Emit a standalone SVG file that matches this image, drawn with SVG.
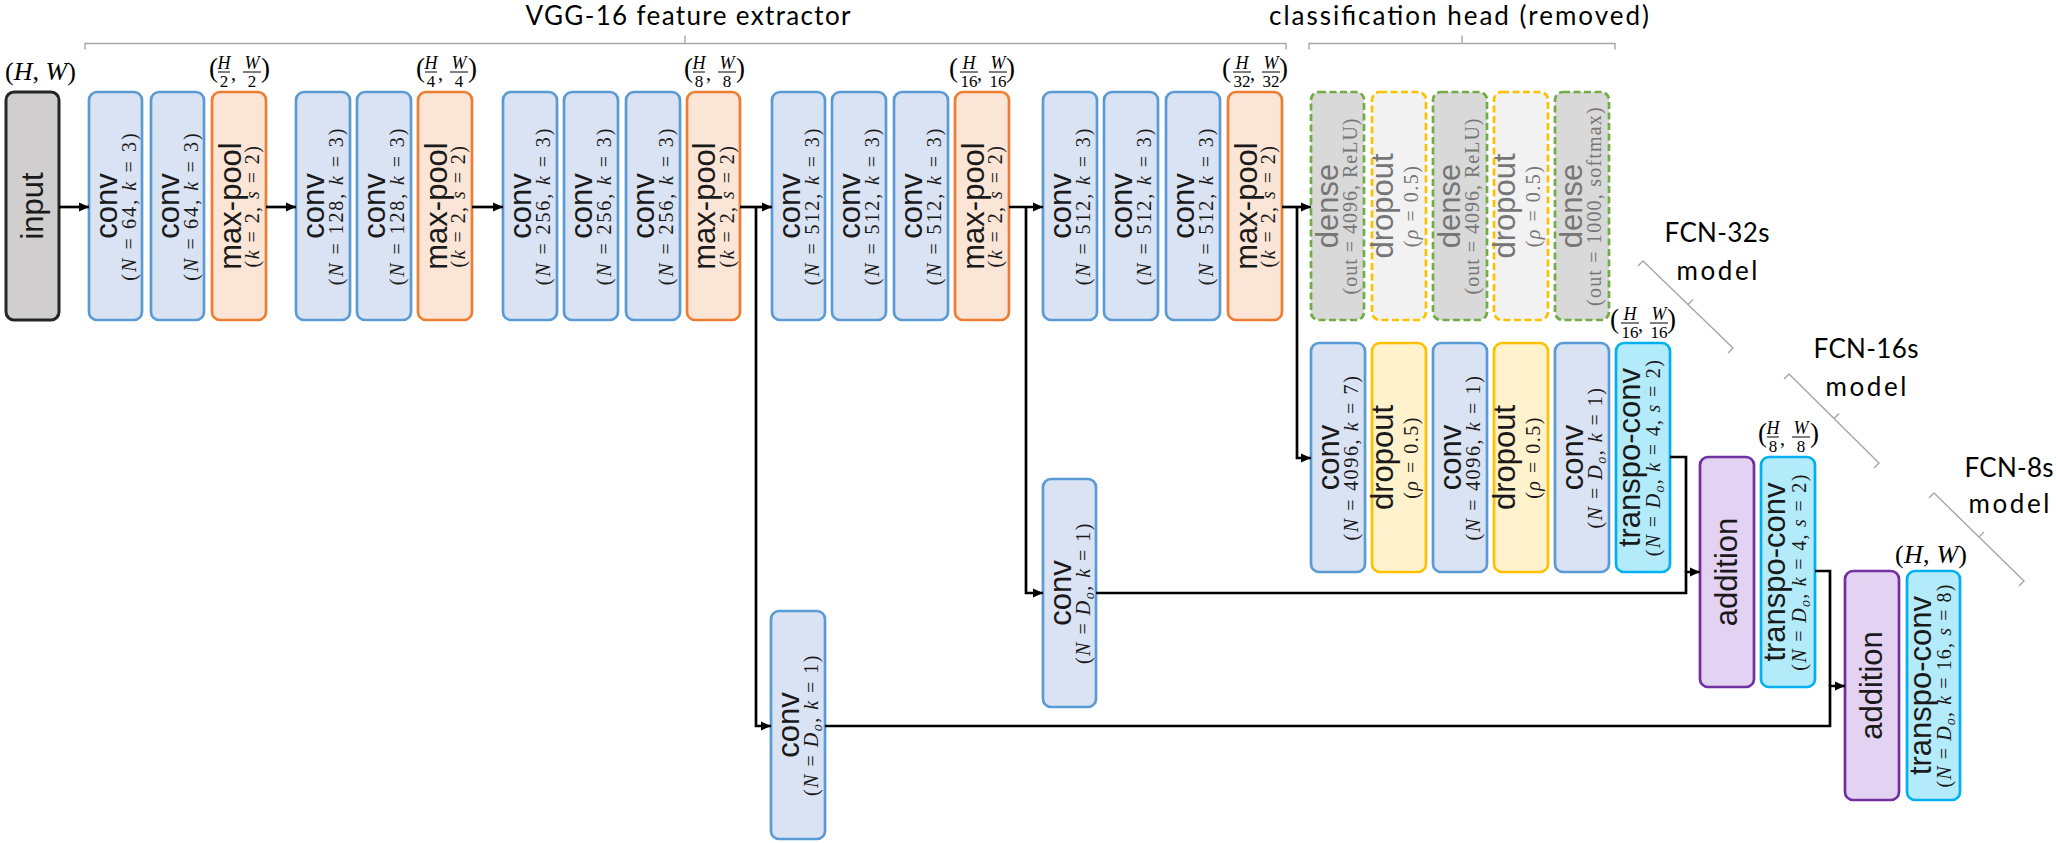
<svg xmlns="http://www.w3.org/2000/svg" width="2056" height="843" viewBox="0 0 2056 843">
<defs>
<style>
.n rect{stroke-width:2.7}
.conv rect{fill:#dae3f3;stroke:#5b9bd5}
.pool rect{fill:#fbe5d6;stroke:#ed7d31}
.inp rect{fill:#d0cece;stroke:#262626;stroke-width:3}
.dense rect{fill:#d9d9d9;stroke:#70ad47;stroke-dasharray:7 3.5}
.drx rect{fill:#f2f2f2;stroke:#ffc000;stroke-dasharray:7 3.5}
.drop rect{fill:#fff2cc;stroke:#ffc000}
.tc rect{fill:#b4ebfa;stroke:#00b0f0}
.add rect{fill:#e4d2f2;stroke:#7030a0}
.lbl{font-family:"Liberation Sans",Arial,sans-serif;font-size:31px;fill:#1a1a1a;text-anchor:middle}
.sub{font-family:"Liberation Serif","Times New Roman",serif;font-size:20px;fill:#1a1a1a;text-anchor:middle}
.g{fill:#767676}
.it{font-style:italic}
.s64{letter-spacing:2.1px}
.s128{letter-spacing:1.9px}
.sp{letter-spacing:1.45px}
.sr{letter-spacing:1px}
.ss{letter-spacing:1.2px}
.sd{letter-spacing:1.5px}
.s4k{letter-spacing:1.65px}
.sdo{letter-spacing:1.5px}
.st{letter-spacing:1.3px}
.st16{letter-spacing:1.1px}
.cn path{fill:none;stroke:#000;stroke-width:2.7}
.br{fill:none;stroke:#a6a6a6;stroke-width:1.4}
.ttl{font-family:Lato,"Liberation Sans",sans-serif;font-size:26px;fill:#000;text-anchor:middle}
.fi{font-family:"Liberation Serif",serif;font-style:italic;font-size:18px;text-anchor:middle}
.fd{font-family:"Liberation Serif",serif;font-size:17px;text-anchor:middle}
.fp{font-family:"Liberation Serif",serif;font-size:27px}
.fc{font-family:"Liberation Serif",serif;font-size:20px}
.fb{stroke:#000;stroke-width:1}
.hw{font-family:"Liberation Serif",serif;font-size:26px}
</style>
<marker id="ah" viewBox="0 0 10 10" refX="10" refY="5" markerWidth="10" markerHeight="10" markerUnits="userSpaceOnUse" orient="auto">
<path d="M0,0.5 L10,5 L0,9.5 z" fill="#000"/>
</marker>
</defs>
<rect width="2056" height="843" fill="#fff"/>

<g id="titles">
<text class="ttl" x="688" y="25" textLength="325">VGG-16 feature extractor</text>
<text class="ttl" x="1459" y="25" textLength="380">classification head (removed)</text>
<path class="br" d="M85,49.5 V43.5 H1286 V49.5 M685,43.5 V35.5"/>
<path class="br" d="M1309,49.5 V43.5 H1615 V49.5 M1462,43.5 V35.5"/>
</g>

<g id="models">
<text class="ttl" x="1717" y="242" textLength="105">FCN-32s</text>
<text class="ttl" x="1717" y="280" textLength="81">model</text>
<path class="br" d="M1638,266 L1643,261 L1733,348 L1728,353 M1688,304.5 L1693,299.5"/>
<text class="ttl" x="1866" y="358" textLength="105">FCN-16s</text>
<text class="ttl" x="1866" y="396" textLength="81">model</text>
<path class="br" d="M1784,379 L1789,374 L1879,463 L1874,468 M1834,418.5 L1839,413.5"/>
<text class="ttl" x="2009" y="477" textLength="89">FCN-8s</text>
<text class="ttl" x="2009" y="513" textLength="81">model</text>
<path class="br" d="M1929,498 L1934,493 L2024,581 L2019,586 M1979,537 L1984,532"/>
</g>

<g id="sizes">
<text class="hw" x="5" y="80" textLength="71">(<tspan class="it">H</tspan>, <tspan class="it">W</tspan>)</text>
<text class="hw" x="1895" y="563" textLength="72">(<tspan class="it">H</tspan>, <tspan class="it">W</tspan>)</text>
<g transform="translate(239,92)">
<text class="fp" x="-30" y="-15">(</text><text class="fi" x="-15" y="-23">H</text><line class="fb" x1="-21" x2="-9" y1="-20" y2="-20"/><text class="fd" x="-15" y="-5">2</text>
<text class="fc" x="-8" y="-12">,</text><text class="fi" x="13" y="-23">W</text><line class="fb" x1="4" x2="22" y1="-20" y2="-20"/><text class="fd" x="13" y="-5">2</text><text class="fp" x="22" y="-15">)</text>
</g>
<g transform="translate(446,92)">
<text class="fp" x="-30" y="-15">(</text><text class="fi" x="-15" y="-23">H</text><line class="fb" x1="-21" x2="-9" y1="-20" y2="-20"/><text class="fd" x="-15" y="-5">4</text>
<text class="fc" x="-8" y="-12">,</text><text class="fi" x="13" y="-23">W</text><line class="fb" x1="4" x2="22" y1="-20" y2="-20"/><text class="fd" x="13" y="-5">4</text><text class="fp" x="22" y="-15">)</text>
</g>
<g transform="translate(714,92)">
<text class="fp" x="-30" y="-15">(</text><text class="fi" x="-15" y="-23">H</text><line class="fb" x1="-21" x2="-9" y1="-20" y2="-20"/><text class="fd" x="-15" y="-5">8</text>
<text class="fc" x="-8" y="-12">,</text><text class="fi" x="13" y="-23">W</text><line class="fb" x1="4" x2="22" y1="-20" y2="-20"/><text class="fd" x="13" y="-5">8</text><text class="fp" x="22" y="-15">)</text>
</g>
<g transform="translate(982,92)">
<text class="fp" x="-33" y="-15">(</text><text class="fi" x="-13" y="-23">H</text><line class="fb" x1="-22" x2="-4" y1="-20" y2="-20"/><text class="fd" x="-13" y="-5">16</text>
<text class="fc" x="-5" y="-12">,</text><text class="fi" x="16" y="-23">W</text><line class="fb" x1="7" x2="25" y1="-20" y2="-20"/><text class="fd" x="16" y="-5">16</text><text class="fp" x="24" y="-15">)</text>
</g>
<g transform="translate(1255,92)">
<text class="fp" x="-33" y="-15">(</text><text class="fi" x="-13" y="-23">H</text><line class="fb" x1="-22" x2="-4" y1="-20" y2="-20"/><text class="fd" x="-13" y="-5">32</text>
<text class="fc" x="-5" y="-12">,</text><text class="fi" x="16" y="-23">W</text><line class="fb" x1="7" x2="25" y1="-20" y2="-20"/><text class="fd" x="16" y="-5">32</text><text class="fp" x="24" y="-15">)</text>
</g>
<g transform="translate(1643,343)">
<text class="fp" x="-33" y="-15">(</text><text class="fi" x="-13" y="-23">H</text><line class="fb" x1="-22" x2="-4" y1="-20" y2="-20"/><text class="fd" x="-13" y="-5">16</text>
<text class="fc" x="-5" y="-12">,</text><text class="fi" x="16" y="-23">W</text><line class="fb" x1="7" x2="25" y1="-20" y2="-20"/><text class="fd" x="16" y="-5">16</text><text class="fp" x="24" y="-15">)</text>
</g>
<g transform="translate(1788,457)">
<text class="fp" x="-30" y="-15">(</text><text class="fi" x="-15" y="-23">H</text><line class="fb" x1="-21" x2="-9" y1="-20" y2="-20"/><text class="fd" x="-15" y="-5">8</text>
<text class="fc" x="-8" y="-12">,</text><text class="fi" x="13" y="-23">W</text><line class="fb" x1="4" x2="22" y1="-20" y2="-20"/><text class="fd" x="13" y="-5">8</text><text class="fp" x="22" y="-15">)</text>
</g>
</g>

<g id="input" class="n inp"><rect x="6" y="92" width="53" height="228" rx="8"/><text class="lbl" transform="translate(42.5,206) rotate(-90)">input</text></g>

<g id="conv1" class="n conv"><rect x="89" y="92" width="53" height="228" rx="8"/><text class="lbl" transform="translate(116.5,206) rotate(-90)">conv</text><text class="sub s64" transform="translate(135.5,206) rotate(-90)">(<tspan class="it">N</tspan> = 64, <tspan class="it">k</tspan> = 3)</text></g>
<g id="conv2" class="n conv"><rect x="151" y="92" width="53" height="228" rx="8"/><text class="lbl" transform="translate(178.5,206) rotate(-90)">conv</text><text class="sub s64" transform="translate(197.5,206) rotate(-90)">(<tspan class="it">N</tspan> = 64, <tspan class="it">k</tspan> = 3)</text></g>
<g id="pool1" class="n pool"><rect x="212" y="92" width="54" height="228" rx="8"/><text class="lbl" transform="translate(240.5,206) rotate(-90)">max-pool</text><text class="sub sp" transform="translate(259,206) rotate(-90)">(<tspan class="it">k</tspan> = 2, <tspan class="it">s</tspan> = 2)</text></g>

<g id="conv3" class="n conv"><rect x="296" y="92" width="54" height="228" rx="8"/><text class="lbl" transform="translate(324,206) rotate(-90)">conv</text><text class="sub s128" transform="translate(343,206) rotate(-90)">(<tspan class="it">N</tspan> = 128, <tspan class="it">k</tspan> = 3)</text></g>
<g id="conv4" class="n conv"><rect x="357" y="92" width="54" height="228" rx="8"/><text class="lbl" transform="translate(385,206) rotate(-90)">conv</text><text class="sub s128" transform="translate(404,206) rotate(-90)">(<tspan class="it">N</tspan> = 128, <tspan class="it">k</tspan> = 3)</text></g>
<g id="pool2" class="n pool"><rect x="418" y="92" width="54" height="228" rx="8"/><text class="lbl" transform="translate(446.5,206) rotate(-90)">max-pool</text><text class="sub sp" transform="translate(465,206) rotate(-90)">(<tspan class="it">k</tspan> = 2, <tspan class="it">s</tspan> = 2)</text></g>

<g id="conv5" class="n conv"><rect x="503" y="92" width="54" height="228" rx="8"/><text class="lbl" transform="translate(531,206) rotate(-90)">conv</text><text class="sub s128" transform="translate(550,206) rotate(-90)">(<tspan class="it">N</tspan> = 256, <tspan class="it">k</tspan> = 3)</text></g>
<g id="conv6" class="n conv"><rect x="564" y="92" width="54" height="228" rx="8"/><text class="lbl" transform="translate(592,206) rotate(-90)">conv</text><text class="sub s128" transform="translate(611,206) rotate(-90)">(<tspan class="it">N</tspan> = 256, <tspan class="it">k</tspan> = 3)</text></g>
<g id="conv7" class="n conv"><rect x="626" y="92" width="54" height="228" rx="8"/><text class="lbl" transform="translate(654,206) rotate(-90)">conv</text><text class="sub s128" transform="translate(673,206) rotate(-90)">(<tspan class="it">N</tspan> = 256, <tspan class="it">k</tspan> = 3)</text></g>
<g id="pool3" class="n pool"><rect x="687" y="92" width="53" height="228" rx="8"/><text class="lbl" transform="translate(715,206) rotate(-90)">max-pool</text><text class="sub sp" transform="translate(733.5,206) rotate(-90)">(<tspan class="it">k</tspan> = 2, <tspan class="it">s</tspan> = 2)</text></g>

<g id="conv8" class="n conv"><rect x="772" y="92" width="53" height="228" rx="8"/><text class="lbl" transform="translate(799.5,206) rotate(-90)">conv</text><text class="sub s128" transform="translate(818.5,206) rotate(-90)">(<tspan class="it">N</tspan> = 512, <tspan class="it">k</tspan> = 3)</text></g>
<g id="conv9" class="n conv"><rect x="832" y="92" width="54" height="228" rx="8"/><text class="lbl" transform="translate(860,206) rotate(-90)">conv</text><text class="sub s128" transform="translate(879,206) rotate(-90)">(<tspan class="it">N</tspan> = 512, <tspan class="it">k</tspan> = 3)</text></g>
<g id="conv10" class="n conv"><rect x="894" y="92" width="54" height="228" rx="8"/><text class="lbl" transform="translate(922,206) rotate(-90)">conv</text><text class="sub s128" transform="translate(941,206) rotate(-90)">(<tspan class="it">N</tspan> = 512, <tspan class="it">k</tspan> = 3)</text></g>
<g id="pool4" class="n pool"><rect x="955" y="92" width="54" height="228" rx="8"/><text class="lbl" transform="translate(983.5,206) rotate(-90)">max-pool</text><text class="sub sp" transform="translate(1002,206) rotate(-90)">(<tspan class="it">k</tspan> = 2, <tspan class="it">s</tspan> = 2)</text></g>

<g id="conv11" class="n conv"><rect x="1043" y="92" width="54" height="228" rx="8"/><text class="lbl" transform="translate(1071,206) rotate(-90)">conv</text><text class="sub s128" transform="translate(1090,206) rotate(-90)">(<tspan class="it">N</tspan> = 512, <tspan class="it">k</tspan> = 3)</text></g>
<g id="conv12" class="n conv"><rect x="1104" y="92" width="54" height="228" rx="8"/><text class="lbl" transform="translate(1132,206) rotate(-90)">conv</text><text class="sub s128" transform="translate(1151,206) rotate(-90)">(<tspan class="it">N</tspan> = 512, <tspan class="it">k</tspan> = 3)</text></g>
<g id="conv13" class="n conv"><rect x="1166" y="92" width="54" height="228" rx="8"/><text class="lbl" transform="translate(1194,206) rotate(-90)">conv</text><text class="sub s128" transform="translate(1213,206) rotate(-90)">(<tspan class="it">N</tspan> = 512, <tspan class="it">k</tspan> = 3)</text></g>
<g id="pool5" class="n pool"><rect x="1228" y="92" width="54" height="228" rx="8"/><text class="lbl" transform="translate(1256.5,206) rotate(-90)">max-pool</text><text class="sub sp" transform="translate(1275,206) rotate(-90)">(<tspan class="it">k</tspan> = 2, <tspan class="it">s</tspan> = 2)</text></g>

<g id="dense1" class="n dense"><rect x="1311" y="92" width="53" height="228" rx="8"/><text class="lbl g" transform="translate(1337.5,206) rotate(-90)">dense</text><text class="sub g sr" transform="translate(1356.5,206) rotate(-90)">(out = 4096, ReLU)</text></g>
<g id="dropout1" class="n drx"><rect x="1372" y="92" width="54" height="228" rx="8"/><text class="lbl g" transform="translate(1393,206) rotate(-90)">dropout</text><text class="sub g sd" transform="translate(1418,206) rotate(-90)">(<tspan class="it">ρ</tspan> = 0.5)</text></g>
<g id="dense2" class="n dense"><rect x="1433" y="92" width="54" height="228" rx="8"/><text class="lbl g" transform="translate(1460,206) rotate(-90)">dense</text><text class="sub g sr" transform="translate(1479,206) rotate(-90)">(out = 4096, ReLU)</text></g>
<g id="dropout2" class="n drx"><rect x="1494" y="92" width="54" height="228" rx="8"/><text class="lbl g" transform="translate(1515,206) rotate(-90)">dropout</text><text class="sub g sd" transform="translate(1540,206) rotate(-90)">(<tspan class="it">ρ</tspan> = 0.5)</text></g>
<g id="dense3" class="n dense"><rect x="1555" y="92" width="54" height="228" rx="8"/><text class="lbl g" transform="translate(1582,206) rotate(-90)">dense</text><text class="sub g ss" transform="translate(1601,206) rotate(-90)">(out = 1000, softmax)</text></g>

<g id="fconv7" class="n conv"><rect x="1311" y="343" width="54" height="229" rx="8"/><text class="lbl" transform="translate(1339,457.5) rotate(-90)">conv</text><text class="sub s4k" transform="translate(1358,457.5) rotate(-90)">(<tspan class="it">N</tspan> = 4096, <tspan class="it">k</tspan> = 7)</text></g>
<g id="fdrop1" class="n drop"><rect x="1372" y="343" width="54" height="229" rx="8"/><text class="lbl" transform="translate(1393,457.5) rotate(-90)">dropout</text><text class="sub sd" transform="translate(1418,457.5) rotate(-90)">(<tspan class="it">ρ</tspan> = 0.5)</text></g>
<g id="fconv1" class="n conv"><rect x="1433" y="343" width="54" height="229" rx="8"/><text class="lbl" transform="translate(1461,457.5) rotate(-90)">conv</text><text class="sub s4k" transform="translate(1480,457.5) rotate(-90)">(<tspan class="it">N</tspan> = 4096, <tspan class="it">k</tspan> = 1)</text></g>
<g id="fdrop2" class="n drop"><rect x="1494" y="343" width="54" height="229" rx="8"/><text class="lbl" transform="translate(1515,457.5) rotate(-90)">dropout</text><text class="sub sd" transform="translate(1540,457.5) rotate(-90)">(<tspan class="it">ρ</tspan> = 0.5)</text></g>
<g id="fconvDo" class="n conv"><rect x="1555" y="343" width="54" height="229" rx="8"/><text class="lbl" transform="translate(1583,457.5) rotate(-90)">conv</text><text class="sub sdo" transform="translate(1602,457.5) rotate(-90)">(<tspan class="it">N</tspan> = <tspan class="it">D</tspan><tspan class="it" font-size="14" dy="4">o</tspan><tspan dy="-4">, </tspan><tspan class="it">k</tspan> = 1)</text></g>
<g id="transpo1" class="n tc"><rect x="1616" y="343" width="54" height="229" rx="8"/><text class="lbl" transform="translate(1640,457.5) rotate(-90)">transpo-conv</text><text class="sub st" transform="translate(1660,457.5) rotate(-90)">(<tspan class="it">N</tspan> = <tspan class="it">D</tspan><tspan class="it" font-size="14" dy="4">o</tspan><tspan dy="-4">, </tspan><tspan class="it">k</tspan> = 4, <tspan class="it">s</tspan> = 2)</text></g>

<g id="add1" class="n add"><rect x="1700" y="457" width="54" height="230" rx="8"/><text class="lbl" transform="translate(1737,572) rotate(-90)">addition</text></g>
<g id="transpo2" class="n tc"><rect x="1761" y="457" width="54" height="230" rx="8"/><text class="lbl" transform="translate(1785,572) rotate(-90)">transpo-conv</text><text class="sub st" transform="translate(1806,572) rotate(-90)">(<tspan class="it">N</tspan> = <tspan class="it">D</tspan><tspan class="it" font-size="14" dy="4">o</tspan><tspan dy="-4">, </tspan><tspan class="it">k</tspan> = 4, <tspan class="it">s</tspan> = 2)</text></g>
<g id="add2" class="n add"><rect x="1845" y="571" width="54" height="229" rx="8"/><text class="lbl" transform="translate(1882,685.5) rotate(-90)">addition</text></g>
<g id="transpo3" class="n tc"><rect x="1907" y="571" width="53" height="229" rx="8"/><text class="lbl" transform="translate(1930.5,685.5) rotate(-90)">transpo-conv</text><text class="sub st16" transform="translate(1951,685.5) rotate(-90)">(<tspan class="it">N</tspan> = <tspan class="it">D</tspan><tspan class="it" font-size="14" dy="4">o</tspan><tspan dy="-4">, </tspan><tspan class="it">k</tspan> = 16, <tspan class="it">s</tspan> = 8)</text></g>

<g id="skip16" class="n conv"><rect x="1043" y="479" width="53" height="228" rx="8"/><text class="lbl" transform="translate(1070.5,593) rotate(-90)">conv</text><text class="sub sdo" transform="translate(1089.5,593) rotate(-90)">(<tspan class="it">N</tspan> = <tspan class="it">D</tspan><tspan class="it" font-size="14" dy="4">o</tspan><tspan dy="-4">, </tspan><tspan class="it">k</tspan> = 1)</text></g>
<g id="skip8" class="n conv"><rect x="771" y="611" width="54" height="228" rx="8"/><text class="lbl" transform="translate(799,725) rotate(-90)">conv</text><text class="sub sdo" transform="translate(818,725) rotate(-90)">(<tspan class="it">N</tspan> = <tspan class="it">D</tspan><tspan class="it" font-size="14" dy="4">o</tspan><tspan dy="-4">, </tspan><tspan class="it">k</tspan> = 1)</text></g>

<g id="connectors" class="cn">
<path d="M59,207 H89" marker-end="url(#ah)"/>
<path d="M266,207 H296" marker-end="url(#ah)"/>
<path d="M472,207 H503" marker-end="url(#ah)"/>
<path d="M740,207 H772" marker-end="url(#ah)"/>
<path d="M756,207 V726 H771" marker-end="url(#ah)"/>
<path d="M1009,207 H1043" marker-end="url(#ah)"/>
<path d="M1026,207 V593 H1043" marker-end="url(#ah)"/>
<path d="M1282,207 H1311" marker-end="url(#ah)"/>
<path d="M1297,207 V458 H1311" marker-end="url(#ah)"/>
<path d="M1096,593 H1686 V572 H1700" marker-end="url(#ah)"/>
<path d="M1670,457 H1686 V572"/>
<path d="M825,726 H1830 V686 H1845" marker-end="url(#ah)"/>
<path d="M1815,571 H1830 V686"/>
</g>
</svg>
